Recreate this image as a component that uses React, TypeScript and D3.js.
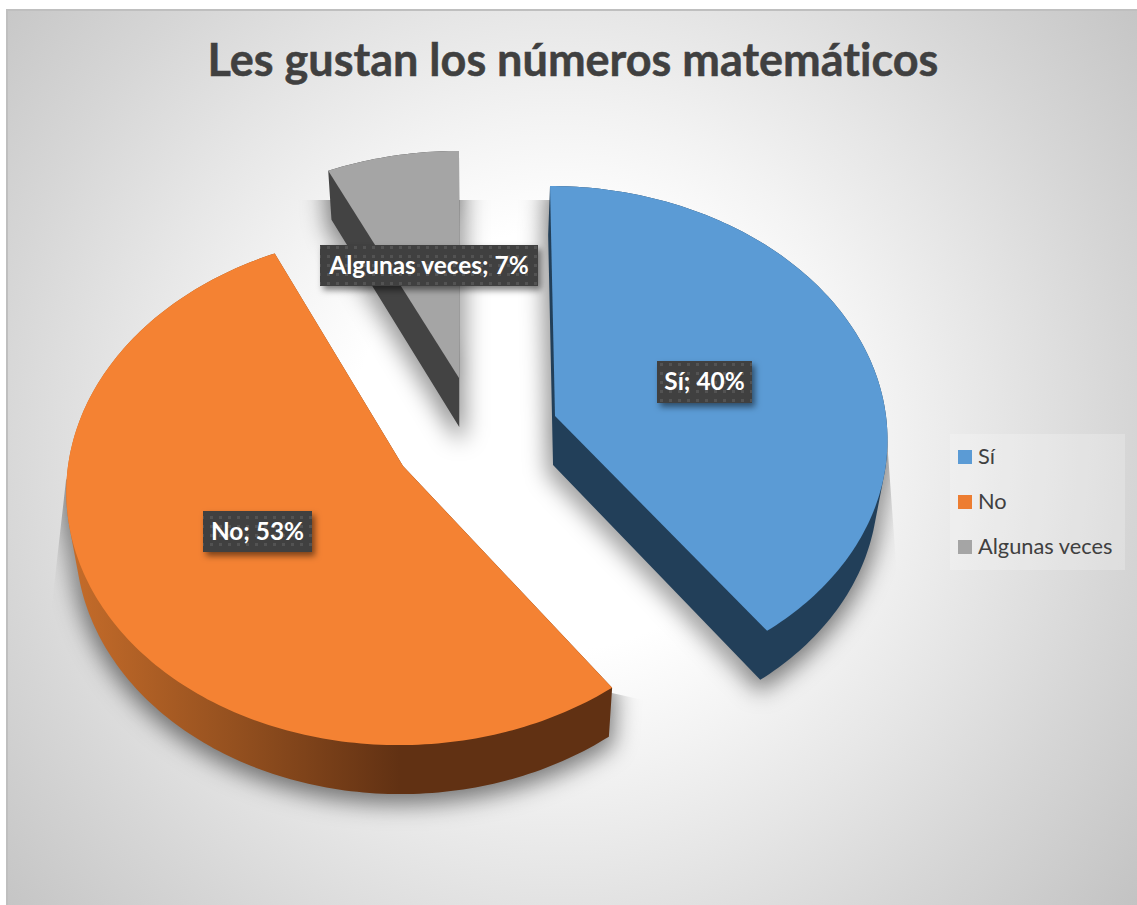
import React from "react";
import * as d3 from "d3";

const chartTitle = "Les gustan los números matemáticos";
const categories = ["Sí", "No", "Algunas veces"];
const shares = [40, 53, 7];

const WIDTH = 1137;
const HEIGHT = 905;

const topColors = ["#5B9BD5", "#F48233", "#A5A5A5"];
const sideColors = ["#223F59", "url(#orangeSide)", "#434343"];

// Projection of every exploded slice: perspective-tilted disk
const sliceGeometry = [
  { cx: 555, cy: 416, ax: 331, ay: 248.4, p: 0.08, lean: 5 },
  { cx: 403, cy: 466, ax: 335, ay: 254, p: 0.09, lean: -4 },
  { cx: 459, cy: 378, ax: 334, ay: 249, p: 0.0966, lean: 0 },
];
const labelBoxes = [
  { x: 657, y: 361, w: 95, h: 42 },
  { x: 203, y: 511, w: 109, h: 41 },
  { x: 320, y: 245, w: 218, h: 41 },
];
const shadowClips = [
  "500,200 552,200 700,400 887,440 898,590 898,820 500,820",
  "66,480 273,260 395,470 600,690 612,693 665,705 665,880 40,880 48,640",
  "270,200 520,200 520,470 270,470",
];

const DEPTH = 49;
const VANISH_X = 470;
const DEPTH_SCALE = 0.977;

type Pt = [number, number];

const pieGen = d3.pie<number>().sort(null).value((d) => d);
const arcs = pieGen(shares);

function project(i: number, angle: number, r: number): Pt {
  const g = sliceGeometry[i];
  const x = r * Math.sin(angle);
  const y = -r * Math.cos(angle);
  const d = 1 - g.p * y;
  return [g.cx + (g.ax * x) / d + g.lean * y, g.cy + (g.ay * y) / d];
}

function lower(p: Pt): Pt {
  return [VANISH_X + (p[0] - VANISH_X) * DEPTH_SCALE, p[1] + DEPTH];
}

const lineGen = d3.line<Pt>();

function orient(poly: Pt[]): Pt[] {
  return d3.polygonArea(poly) < 0 ? poly.slice().reverse() : poly;
}

const slices = arcs.map((a, i) => {
  const n = Math.max(12, Math.round(((a.endAngle - a.startAngle) / Math.PI) * 180));
  const rim: Pt[] = d3.range(n + 1).map((k) =>
    project(i, a.startAngle + ((a.endAngle - a.startAngle) * k) / n, 1)
  );
  const apex = project(i, 0, 0);
  const outline: Pt[] = [apex, ...rim];
  const bottom = outline.map(lower);
  const quads = outline.map((p, k) => {
    const q = outline[(k + 1) % outline.length];
    return orient([p, q, lower(q), lower(p)]);
  });
  const sidePath =
    quads.map((q) => lineGen(q) + "Z").join("") + lineGen(orient(bottom)) + "Z";
  const topPath = lineGen(outline) + "Z";
  const shadowPath = sidePath + lineGen(orient(outline)) + "Z";
  return { sidePath, topPath, shadowPath };
});

const legendY = d3.scalePoint<string>().domain(categories).range([457, 547]);

const FONT = "Lato, Carlito, 'Open Sans', sans-serif";
const noLig = { fontVariantLigatures: "none" } as React.CSSProperties;

export default function App() {
  return (
    <svg
      width={WIDTH}
      height={HEIGHT}
      viewBox={`0 0 ${WIDTH} ${HEIGHT}`}
      style={{ position: "absolute", left: 0, top: 0, display: "block" }}
    >
      <defs>
        <radialGradient id="bg" gradientUnits="userSpaceOnUse" cx={560} cy={440} r={750}>
          <stop offset="0" stopColor="#ffffff" />
          <stop offset="0.28" stopColor="#ffffff" />
          <stop offset="0.43" stopColor="#f3f3f3" />
          <stop offset="0.58" stopColor="#e6e6e6" />
          <stop offset="0.76" stopColor="#d6d6d6" />
          <stop offset="1" stopColor="#c2c2c2" />
        </radialGradient>
        <linearGradient id="orangeSide" gradientUnits="userSpaceOnUse" x1={70} x2={400} y1={0} y2={0}>
          <stop offset="0" stopColor="#c56c2a" />
          <stop offset="0.5" stopColor="#94501f" />
          <stop offset="1" stopColor="#613113" />
        </linearGradient>
        <filter id="blur" filterUnits="userSpaceOnUse" x={0} y={0} width={WIDTH} height={HEIGHT}>
          <feGaussianBlur stdDeviation={11} />
        </filter>
        <filter id="labelShadow" x="-20%" y="-30%" width="140%" height="170%">
          <feDropShadow dx={3} dy={4} stdDeviation={3} floodColor="#000" floodOpacity={0.5} />
        </filter>
        <pattern id="dots" width={9} height={9} patternUnits="userSpaceOnUse">
          <rect width={9} height={9} fill="#404040" />
          <rect x={3} y={3} width={3} height={3} fill="#525252" />
        </pattern>
        {shadowClips.map((pts, i) => (
          <clipPath id={`clip${i}`} key={i}>
            <polygon points={pts} />
          </clipPath>
        ))}
      </defs>

      <rect x={7} y={10} width={1140} height={905} fill="url(#bg)" stroke="#bfbfbf" strokeWidth={2} />

      <text
        x={573}
        y={76}
        textAnchor="middle"
        fontFamily={FONT}
        fontWeight={700}
        fontSize={45}
        fill="#404040"
        stroke="#404040"
        strokeWidth={0.5}
        style={noLig}
      >
        {chartTitle}
      </text>

      {slices.map((s, i) => (
        <g key={i} clipPath={`url(#clip${i})`}>
          <path
            d={s.shadowPath}
            transform="translate(0,6)"
            fill="#000"
            fillOpacity={0.3}
            stroke="#000"
            strokeOpacity={0.3}
            strokeWidth={14}
            strokeLinejoin="round"
            style={{ paintOrder: "stroke" }}
            filter="url(#blur)"
          />
        </g>
      ))}

      {slices.map((s, i) => (
        <g key={i}>
          <path d={s.sidePath} fill={sideColors[i]} />
          <path d={s.topPath} fill={topColors[i]} />
        </g>
      ))}

      {categories.map((c, i) => {
        const b = labelBoxes[i];
        return (
          <g key={c}>
            <rect x={b.x} y={b.y} width={b.w} height={b.h} fill="url(#dots)" filter="url(#labelShadow)" />
            <text
              x={b.x + b.w / 2}
              y={b.y + b.h / 2 + 8}
              textAnchor="middle"
              fontFamily={FONT}
              fontWeight={700}
              fontSize={24.4}
              fill="#ffffff"
              style={noLig}
            >
              {`${c}; ${shares[i]}%`}
            </text>
          </g>
        );
      })}

      <rect x={950} y={434} width={175} height={136} fill="#ffffff" fillOpacity={0.22} />
      {categories.map((c, i) => (
        <g key={c}>
          <rect x={958} y={(legendY(c) as number) - 7} width={14} height={14} fill={i === 1 ? "#ED7D31" : topColors[i]} />
          <text
            x={978}
            y={(legendY(c) as number) + 7}
            fontFamily={FONT}
            fontSize={21.8}
            fill="#404040"
          >
            {c}
          </text>
        </g>
      ))}
    </svg>
  );
}
